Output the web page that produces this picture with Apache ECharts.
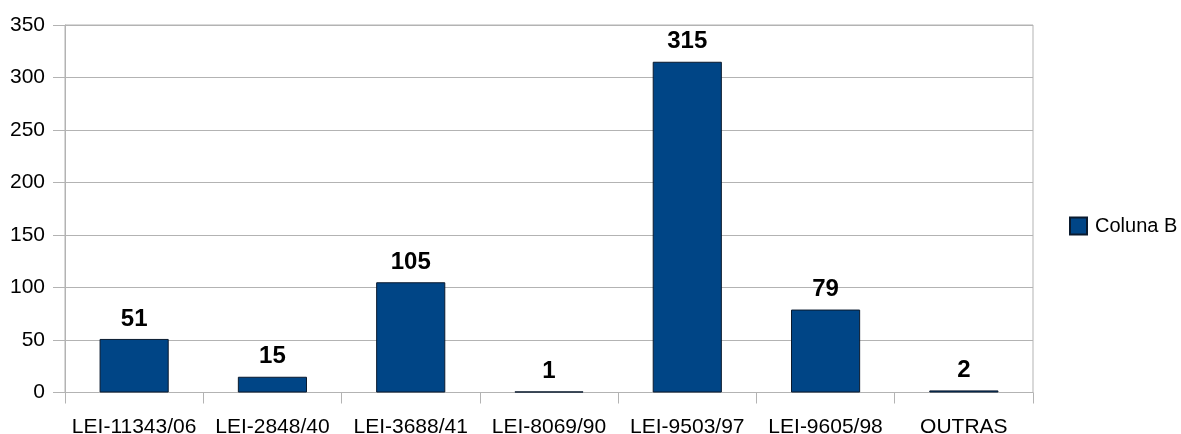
<!DOCTYPE html>
<html>
<head>
<meta charset="utf-8">
<style>
  html, body { margin: 0; padding: 0; background: #fff; }
  #chart { width: 1181px; height: 434px; }
</style>
<script src="https://cdn.jsdelivr.net/npm/echarts@6/dist/echarts.min.js"></script>
</head>
<body>
<div id="chart"></div>
<script>
// Number of records per law
const categories = ['LEI-11343/06', 'LEI-2848/40', 'LEI-3688/41', 'LEI-8069/90', 'LEI-9503/97', 'LEI-9605/98', 'OUTRAS'];
const colunaB = [51, 15, 105, 1, 315, 79, 2];
const seriesName = 'Coluna B';

const FONT = '"Liberation Sans", Arial, sans-serif';
const GRID = '#b3b3b3';

const chart = echarts.init(document.getElementById('chart'), null, { renderer: 'canvas' });
chart.setOption({
  animation: false,
  backgroundColor: '#ffffff',
  textStyle: { fontFamily: FONT, color: '#000' },
  grid: {
    left: 65, right: 148, top: 25, bottom: 41.5,
    outerBoundsMode: 'none',
    containLabel: false,
    show: true, borderColor: GRID, borderWidth: 1, backgroundColor: 'transparent'
  },
  legend: {
    orient: 'vertical',
    left: 1069, top: 216,
    padding: 0,
    itemWidth: 17, itemHeight: 17, itemGap: 10,
    icon: 'rect',
    textStyle: { fontFamily: FONT, fontSize: 20, color: '#000', padding: [2, 0, 0, 3] },
    data: [seriesName]
  },
  xAxis: {
    type: 'category',
    data: categories,
    boundaryGap: true,
    axisLine: { show: true, lineStyle: { color: GRID, width: 1 } },
    axisTick: { show: true, alignWithLabel: false, length: 11, lineStyle: { color: GRID } },
    axisLabel: { fontFamily: FONT, fontSize: 21, color: '#000', margin: 24, interval: 0 },
    splitLine: { show: false }
  },
  yAxis: {
    type: 'value',
    min: 0, max: 350, interval: 50,
    axisLine: { show: true, lineStyle: { color: GRID, width: 1 } },
    axisTick: { show: true, length: 12, lineStyle: { color: GRID } },
    axisLabel: { fontFamily: FONT, fontSize: 21, color: '#000', margin: 20 },
    splitLine: { show: true, lineStyle: { color: GRID, width: 1 } }
  },
  series: [{
    name: seriesName,
    type: 'bar',
    data: colunaB,
    barWidth: '50%',
    itemStyle: { color: '#004586', borderColor: '#0a1a2e', borderWidth: 1 },
    label: {
      show: true, position: 'top', distance: 8,
      fontFamily: FONT, fontSize: 24, fontWeight: 'bold', color: '#000'
    }
  }]
});
</script>
</body>
</html>
